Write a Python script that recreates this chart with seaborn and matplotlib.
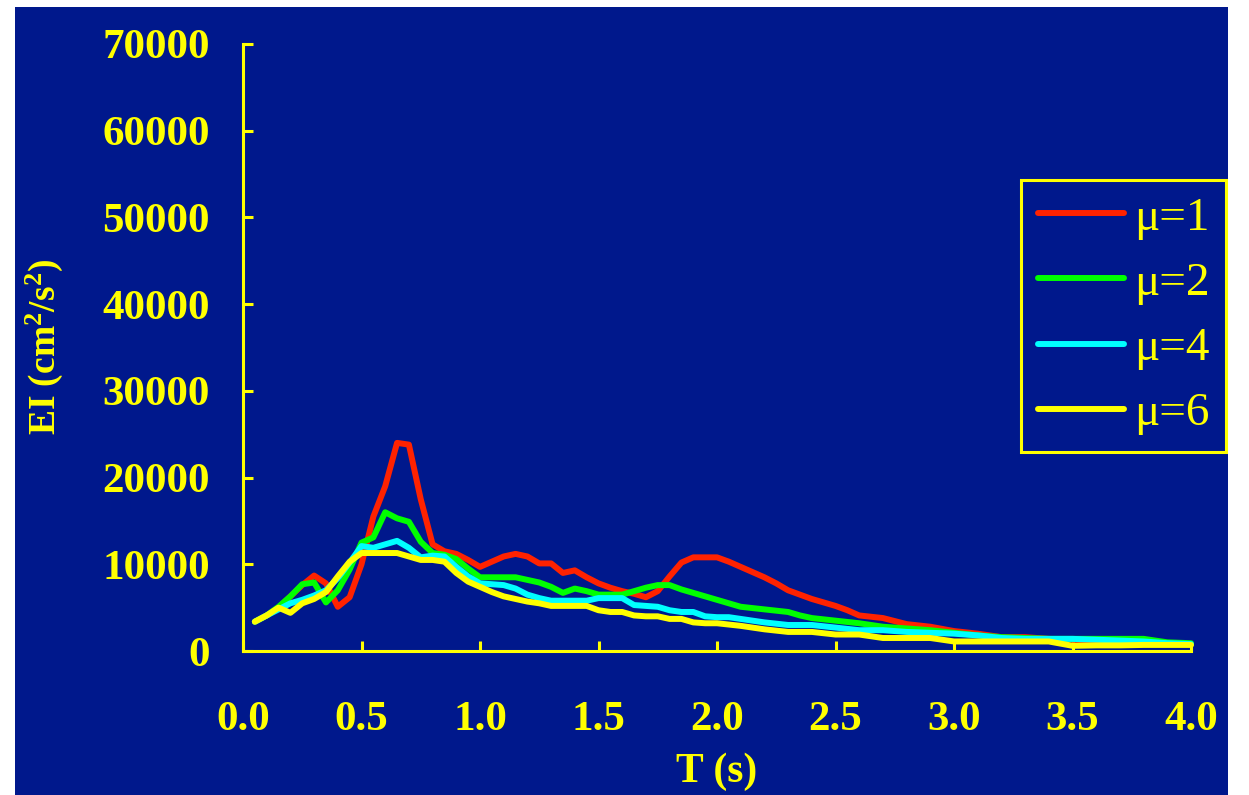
import matplotlib
matplotlib.use("Agg")
import matplotlib.pyplot as plt
import matplotlib.patches as mpatches
import numpy as np
import pandas as pd
import seaborn as sns

# Input energy spectra E_I(T) for several ductility ratios
t_mu1 = [0.05, 0.10, 0.15, 0.20, 0.25, 0.30, 0.35, 0.40, 0.45, 0.50, 0.55, 0.60, 0.65, 0.70,
         0.75, 0.80, 0.85, 0.90, 0.95, 1.00, 1.05, 1.10, 1.15, 1.20, 1.25, 1.30, 1.35, 1.40,
         1.45, 1.50, 1.55, 1.60, 1.65, 1.70, 1.75, 1.80, 1.85, 1.90, 1.95, 2.00, 2.05, 2.10,
         2.15, 2.20, 2.25, 2.30, 2.35, 2.40, 2.45, 2.50, 2.55, 2.60, 2.70, 2.80, 2.90, 3.00,
         3.10, 3.20, 3.30, 3.40, 3.50, 3.60, 3.70, 3.80, 3.90, 4.00]
e_mu1 = [3380, 4100, 5000, 6300, 7600, 8700, 7800, 5100, 6200, 10000, 15500, 19000, 24000, 23800,
         17500, 12300, 11500, 11200, 10500, 9700, 10300, 10900, 11200, 10900, 10100, 10100, 9000, 9300,
         8500, 7800, 7300, 6900, 6600, 6200, 6900, 8600, 10200, 10800, 10800, 10800, 10300, 9700,
         9100, 8500, 7800, 7000, 6500, 6000, 5600, 5200, 4700, 4100, 3800, 3100, 2800, 2300,
         2000, 1600, 1600, 1400, 1300, 1200, 1100, 1000, 900, 800]

t_mu2 = [0.05, 0.10, 0.15, 0.20, 0.25, 0.30, 0.35, 0.40, 0.45, 0.50, 0.55, 0.60, 0.65, 0.70,
         0.75, 0.80, 0.85, 0.90, 0.95, 1.00, 1.05, 1.10, 1.15, 1.20, 1.25, 1.30, 1.35, 1.40,
         1.45, 1.50, 1.55, 1.60, 1.65, 1.70, 1.75, 1.80, 1.85, 1.90, 1.95, 2.00, 2.05, 2.10,
         2.20, 2.30, 2.35, 2.40, 2.50, 2.60, 2.70, 2.80, 2.90, 3.00, 3.10, 3.20, 3.30, 3.40,
         3.50, 3.60, 3.70, 3.80, 3.90, 4.00]
e_mu2 = [3380, 4100, 5100, 6300, 7700, 7900, 5600, 7000, 9400, 12500, 13100, 16000, 15300, 14900,
         12600, 11300, 11100, 10600, 9500, 8500, 8500, 8500, 8500, 8200, 7900, 7400, 6700, 7200,
         6900, 6500, 6500, 6500, 6900, 7300, 7600, 7600, 7100, 6700, 6300, 5900, 5500, 5100,
         4800, 4500, 4100, 3800, 3500, 3200, 2800, 2600, 2400, 2100, 1800, 1600, 1500, 1400,
         1400, 1400, 1400, 1400, 1000, 900]

t_mu4 = [0.05, 0.10, 0.15, 0.20, 0.25, 0.30, 0.35, 0.40, 0.45, 0.50, 0.55, 0.60, 0.65, 0.70,
         0.75, 0.80, 0.85, 0.90, 0.95, 1.00, 1.05, 1.10, 1.15, 1.20, 1.25, 1.30, 1.35, 1.40,
         1.45, 1.50, 1.55, 1.60, 1.65, 1.70, 1.75, 1.80, 1.85, 1.90, 1.95, 2.00, 2.05, 2.10,
         2.20, 2.30, 2.40, 2.50, 2.60, 2.70, 2.80, 2.90, 3.00, 3.10, 3.20, 3.30, 3.40, 3.50,
         3.60, 3.70, 3.80, 3.90, 4.00]
e_mu4 = [3380, 4100, 4800, 5500, 5900, 6400, 7000, 8400, 10200, 12100, 11900, 12300, 12700, 11900,
         10800, 11000, 10900, 9700, 8600, 7800, 7700, 7600, 7200, 6500, 6100, 5800, 5800, 5800,
         5800, 6100, 6100, 6100, 5300, 5200, 5100, 4700, 4500, 4500, 4000, 3900, 3900, 3700,
         3300, 3000, 3000, 2700, 2400, 2400, 2200, 2100, 2000, 1800, 1500, 1400, 1400, 1400,
         1300, 1200, 1100, 900, 800]

t_mu6 = [0.05, 0.10, 0.15, 0.20, 0.25, 0.30, 0.35, 0.40, 0.45, 0.50, 0.55, 0.60, 0.65, 0.70,
         0.75, 0.80, 0.85, 0.90, 0.95, 1.00, 1.05, 1.10, 1.15, 1.20, 1.25, 1.30, 1.35, 1.40,
         1.45, 1.50, 1.55, 1.60, 1.65, 1.70, 1.75, 1.80, 1.85, 1.90, 1.95, 2.00, 2.10, 2.20,
         2.30, 2.40, 2.50, 2.60, 2.70, 2.80, 2.90, 3.00, 3.10, 3.20, 3.30, 3.40, 3.50, 3.60,
         3.70, 3.80, 3.90, 4.00]
e_mu6 = [3380, 4100, 5000, 4400, 5500, 6000, 6800, 8600, 10300, 11300, 11300, 11300, 11300, 10900,
         10500, 10500, 10300, 9000, 8000, 7400, 6800, 6300, 6000, 5700, 5500, 5200, 5200, 5200,
         5200, 4700, 4500, 4500, 4100, 4000, 4000, 3700, 3700, 3300, 3200, 3200, 2900, 2500,
         2200, 2200, 1900, 1900, 1500, 1500, 1500, 1100, 1100, 1100, 1100, 1100, 600, 650,
         650, 700, 700, 700]

series_labels = ["μ=1", "μ=2", "μ=4", "μ=6"]
series_colors = ["#FF2200", "#00FF00", "#00FFFF", "#FFFF00"]

x_ticks = [0.0, 0.5, 1.0, 1.5, 2.0, 2.5, 3.0, 3.5, 4.0]
y_ticks = [0, 10000, 20000, 30000, 40000, 50000, 60000, 70000]

frames = []
for lab, t, e in zip(series_labels, [t_mu1, t_mu2, t_mu4, t_mu6], [e_mu1, e_mu2, e_mu4, e_mu6]):
    frames.append(pd.DataFrame({"T": t, "E": e, "mu": lab}))
df = pd.concat(frames, ignore_index=True)

BG = "#00188C"
FG = "#FFFF00"

sns.set_style("ticks")
plt.rcParams["font.family"] = ["Liberation Serif", "DejaVu Serif"]
plt.rcParams["mathtext.fontset"] = "custom"
plt.rcParams["mathtext.rm"] = "Liberation Serif:bold"
plt.rcParams["mathtext.bf"] = "Liberation Serif:bold"
plt.rcParams["mathtext.default"] = "rm"

fig = plt.figure(figsize=(12.49, 7.95), dpi=100, facecolor="white")
# dark panel behind the whole chart
fig.patches.append(mpatches.Rectangle((15 / 1249, 0), (1228 - 15) / 1249, 1 - 7 / 795,
                                      transform=fig.transFigure, facecolor=BG,
                                      edgecolor="none", zorder=-10))

ax = fig.add_axes([243 / 1249, 1 - 651 / 795, (1191 - 243) / 1249, (651 - 44) / 795])
ax.set_facecolor(BG)
ax.set_zorder(1)

sns.lineplot(data=df, x="T", y="E", hue="mu", hue_order=series_labels,
             palette=series_colors, errorbar=None, linewidth=4.3, ax=ax,
             legend=True)
for ln in ax.lines:
    ln.set_solid_capstyle("round")
    ln.set_solid_joinstyle("round")
    ln.set_clip_on(False)

ax.set_xlim(0, 4.0)
ax.set_ylim(0, 70000)
ax.set_xticks(x_ticks)
ax.set_yticks(y_ticks)
ax.set_xticklabels([f"{v:.1f}" for v in x_ticks])
ax.set_yticklabels([str(v) for v in y_ticks])

for s in ["top", "right"]:
    ax.spines[s].set_visible(False)
for s in ["left", "bottom"]:
    ax.spines[s].set_color(FG)
    ax.spines[s].set_linewidth(2.2)

ax.tick_params(axis="both", direction="in", length=7, width=2.2, color=FG,
               labelcolor=FG, labelsize=31)
ax.tick_params(axis="y", pad=24)
ax.tick_params(axis="x", pad=36)
for lbl in ax.get_xticklabels() + ax.get_yticklabels():
    lbl.set_fontweight("bold")

ax.set_xlabel("T (s)", fontsize=30, fontweight="bold", color=FG)
ax.xaxis.set_label_coords(0.5, -0.168)
ax.set_ylabel(r"EI (cm$^{2}$/s$^{2}$)", fontsize=27, fontweight="bold", color=FG)
ax.yaxis.set_label_coords(-0.188, 0.5)

handles, labels = ax.get_legend_handles_labels()
leg = ax.legend(handles, labels, loc="upper right",
                bbox_to_anchor=(1226 / 1249, 1 - 180 / 795),
                bbox_transform=fig.transFigure, borderaxespad=0,
                fontsize=34, frameon=True, fancybox=False,
                handlelength=1.82, handletextpad=0.21, labelspacing=0.47,
                borderpad=0.35)
leg.get_frame().set_facecolor(BG)
leg.get_frame().set_edgecolor(FG)
leg.get_frame().set_linewidth(2.2)
leg.get_frame().set_alpha(1)
for txt in leg.get_texts():
    txt.set_color(FG)
for h in leg.get_lines():
    h.set_linewidth(4.3)
    h.set_solid_capstyle("round")

fig.savefig("out.png", dpi=100, facecolor="white")
